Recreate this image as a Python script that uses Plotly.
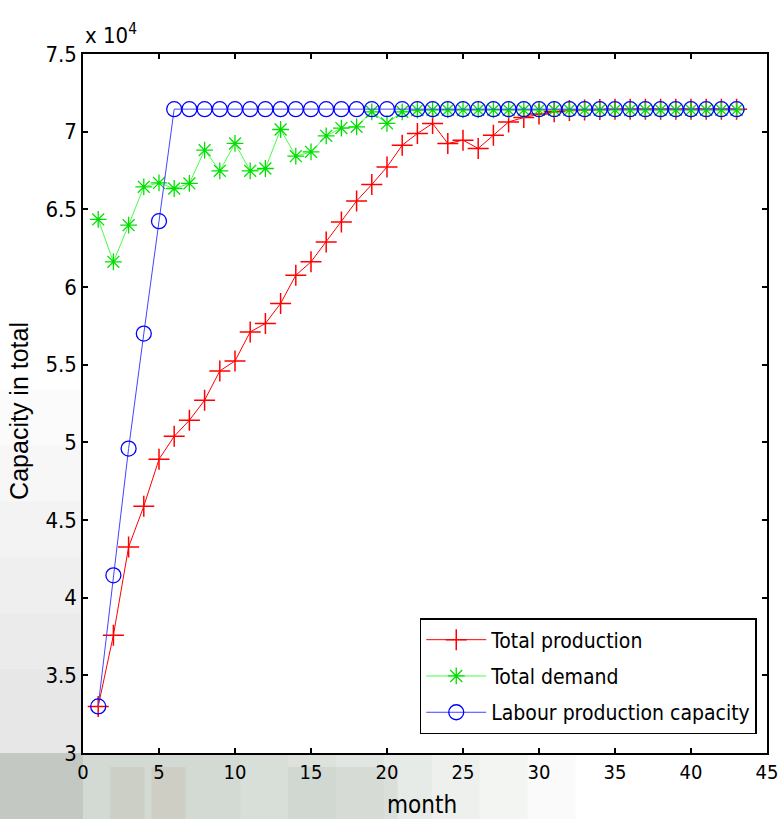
import plotly.graph_objects as go

# Month index
months = list(range(1, 44))

# Total production per month
total_production = [
    33000, 37580, 43260, 45890, 48910, 50390, 51420, 52710, 54600, 55240,
    57110, 57650, 58940, 60760, 61620, 62900, 64190, 65540, 66600, 67730,
    69130, 69880, 70530, 69240, 69450, 68920, 69770, 70630, 70910, 71130,
    71280, 71370, 71400, 71430, 71450, 71450, 71450, 71450, 71450, 71450,
    71450, 71450, 71450,
]

# Total demand per month
total_demand = [
    64350, 61620, 63980, 66450, 66700, 66340, 66670, 68810, 67480, 69240,
    67480, 67630, 70140, 68420, 68700, 69730, 70230, 70310, 71280, 70530,
    71280, 71390, 71400, 71400, 71400, 71400, 71400, 71400, 71400, 71400,
    71400, 71400, 71400, 71400, 71400, 71400, 71400, 71400, 71400, 71400,
    71400, 71400, 71400,
]

# Labour production capacity per month
labour_capacity = [
    33000, 41440, 49600, 57000, 64240, 71450, 71450, 71450, 71450, 71450,
    71450, 71450, 71450, 71450, 71450, 71450, 71450, 71450, 71450, 71450,
    71450, 71450, 71450, 71450, 71450, 71450, 71450, 71450, 71450, 71450,
    71450, 71450, 71450, 71450, 71450, 71450, 71450, 71450, 71450, 71450,
    71450, 71450, 71450,
]

x_ticks = list(range(0, 50, 5))
y_ticks = [30000, 35000, 40000, 45000, 50000, 55000, 60000, 65000, 70000, 75000]
y_tick_labels = ["3", "3.5", "4", "4.5", "5", "5.5", "6", "6.5", "7", "7.5"]

FONT = "Liberation Sans Narrow, Arial Narrow, DejaVu Sans Condensed, Liberation Sans, Arial, sans-serif"

fig = go.Figure()

fig.add_trace(go.Scatter(
    x=months, y=total_production, name="Total production", mode="lines+markers",
    legendgroup="p",
    line=dict(color="#ff0000", width=1),
    marker=dict(symbol="cross-thin-open", size=15, color="#ff0000",
                line=dict(color="#ff0000", width=1.5)),
))
fig.add_trace(go.Scatter(
    x=months, y=total_demand, name="Total demand", mode="lines+markers",
    legendgroup="d",
    line=dict(color="#44ff44", width=1),
    marker=dict(symbol="asterisk-open", size=14, color="#00e000",
                line=dict(color="#00e000", width=1.3)),
))
fig.add_trace(go.Scatter(
    x=months, y=labour_capacity, name="Labour production capacity", mode="lines+markers",
    legendgroup="c",
    line=dict(color="#4444ff", width=1),
    marker=dict(symbol="circle-open", size=15, color="#0000ff",
                line=dict(color="#0000ff", width=1.3)),
))

# Faint washed-out backdrop in the figure margins, darker towards bottom-left
shapes = []
for i in range(8):
    shapes.append(dict(type="rect", xref="paper", yref="paper",
                       x0=-0.13, x1=0.72 - i * 0.07, y0=-0.1, y1=0.0,
                       fillcolor="rgba(120,135,110,0.045)", line=dict(width=0), layer="below"))
for i in range(6):
    shapes.append(dict(type="rect", xref="paper", yref="paper",
                       x0=-0.13, x1=0.0, y0=-0.1, y1=0.52 - i * 0.08,
                       fillcolor="rgba(140,145,130,0.035)", line=dict(width=0), layer="below"))
# a few warmer and darker patches in the bottom strip
for x0, x1, col in [(0.04, 0.09, "rgba(150,120,90,0.10)"),
                    (0.10, 0.15, "rgba(170,110,80,0.10)"),
                    (0.30, 0.46, "rgba(80,85,75,0.08)")]:
    shapes.append(dict(type="rect", xref="paper", yref="paper", x0=x0, x1=x1,
                       y0=-0.1, y1=-0.02, fillcolor=col, line=dict(width=0), layer="below"))

axis_common = dict(
    showline=True, linecolor="black", linewidth=1.5, mirror="ticks",
    ticks="inside", ticklen=5, tickwidth=1.5, tickcolor="black",
    showgrid=False, zeroline=False, automargin=False,
    ticklabeloverflow="allow",
)

fig.update_layout(
    width=778, height=819,
    margin=dict(l=83, r=11, t=54, b=66, autoexpand=False),
    paper_bgcolor="white", plot_bgcolor="white",
    font=dict(family=FONT, size=22, color="black"),
    shapes=shapes,
    xaxis=dict(range=[0, 45], tickvals=x_ticks,
               tickfont=dict(family=FONT, size=20, color="black"), **axis_common),
    yaxis=dict(range=[30000, 75000], tickvals=y_ticks, ticktext=y_tick_labels,
               tickfont=dict(family=FONT, size=22, color="black"), **axis_common),
    showlegend=True,
    legend=dict(
        x=0.985, y=0.1931, xanchor="right", yanchor="top",
        bgcolor="white", bordercolor="black", borderwidth=1.5,
        font=dict(family=FONT, size=21, color="black"),
        itemwidth=60, tracegroupgap=6,
    ),
    annotations=[
        dict(text="x 10<sup>4</sup>", xref="paper", yref="paper", x=0, y=1,
             xanchor="left", yanchor="bottom", yshift=4, showarrow=False,
             font=dict(family=FONT, size=22, color="black")),
        dict(text="Capacity in total", xref="paper", yref="paper", x=-0.093, y=0.49,
             xanchor="center", yanchor="middle", textangle=-90, showarrow=False,
             font=dict(family="Liberation Sans, Arial, sans-serif", size=25, color="black")),
        dict(text="month", xref="paper", yref="paper", x=0.495, y=-0.075,
             xanchor="center", yanchor="middle", showarrow=False,
             font=dict(family=FONT, size=24, color="black")),
    ],
)

fig.write_html("out.html")
